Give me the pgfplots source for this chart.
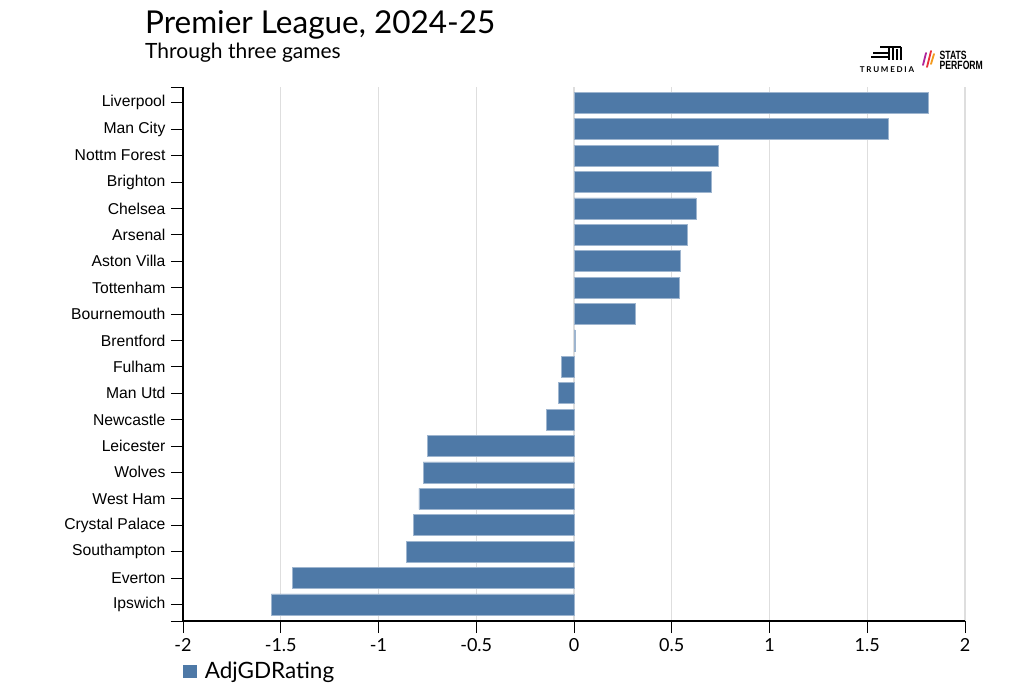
\documentclass[border=0pt]{standalone}
\usepackage{fontspec}
\setmainfont{Liberation Sans}
\newfontfamily\lato{Lato}
\newfontfamily\condsans[FakeStretch=0.72]{Liberation Sans}
\usepackage{pgfplots}
\pgfplotsset{compat=1.18}
\definecolor{barblue}{HTML}{4E79A7}
\definecolor{gridgray}{HTML}{DEDEDE}
\definecolor{spred}{HTML}{E8313A}
\definecolor{sporange}{HTML}{F39A1E}
\definecolor{sppurple}{HTML}{B0249A}

\begin{document}
\begin{tikzpicture}[x=1pt,y=1pt]
\path (0,0) rectangle (1024,682);

% titles
\node[anchor=base west, inner sep=0pt, font=\lato\fontsize{31.5}{36}\selectfont]
  at (145,648.7) {Premier League, 2024-25};
\node[anchor=base west, inner sep=0pt, font=\lato\fontsize{21}{24}\selectfont]
  at (145,623.7) {Through three games};

% logos (rough)
\node[anchor=base, inner sep=0pt, font=\lato\bfseries\fontsize{8}{9}\selectfont\addfontfeature{LetterSpace=22}]
  at (887,609.7) {TRUMEDIA};
\begin{scope}[line width=1.6pt, line cap=butt]
  \draw (880,635) -- (901,635);
  \draw (873,629) -- (888,629);
  \draw (871,625) -- (888,625);
  \draw (889,635) -- (889,622);
  \draw (893,635) -- (893,622);
  \draw (897,633) -- (897,622);
  \draw (901,635) -- (901,622);
\end{scope}
\begin{scope}[line width=1.8pt, line cap=round]
  \draw[sppurple] (923,617) -- (926,629);
  \draw[spred] (927,615) -- (931,631);
  \draw[sporange] (931,618) -- (934,628);
\end{scope}
\node[anchor=base west, inner sep=0pt, font=\condsans\bfseries\fontsize{12}{12}\selectfont]
  at (939.5,622) {STATS};
\node[anchor=base west, inner sep=0pt, font=\condsans\bfseries\fontsize{12}{12}\selectfont]
  at (939.5,612) {PERFORM};

\begin{axis}[
  at={(183pt,61pt)}, anchor=south west,
  scale only axis, width=782pt, height=534pt,
  xbar, bar width=21pt,
  xmin=-2, xmax=2, xtick distance=0.5,
  ymin=-0.63, ymax=19.6,
  ytick={0,...,19},
  yticklabels={Ipswich,Everton,Southampton,Crystal Palace,West Ham,Wolves,Leicester,Newcastle,Man Utd,Fulham,Brentford,Bournemouth,Tottenham,Aston Villa,Arsenal,Chelsea,Brighton,Nottm Forest,Man City,Liverpool},
  extra y ticks={-0.63,19.6}, extra y tick labels={},
  axis x line*=bottom, axis y line*=left,
  axis line style={line width=1.1pt, -},
  tick align=outside, major tick length=12pt,
  tick style={black, line width=0.9pt},
  xmajorgrids, grid style={gridgray, line width=1.3pt},
  /pgf/number format/assume math mode=true,
  xticklabel style={font=\lato\fontsize{18}{20}\selectfont, yshift=-2pt},
  yticklabel style={font=\fontsize{15.7}{18}\selectfont, xshift=-2pt},
  legend style={at={(0,0)}, anchor=north west, yshift=-39pt, xshift=0pt,
    draw=none, fill=none, inner sep=0pt,
    font=\lato\fontsize{22.5}{26}\selectfont,
    /tikz/every odd column/.style={column sep=6pt}},
  legend cell align=left,
  legend image code/.code={\fill[barblue] (0pt,-6pt) rectangle (13pt,6pt);},
]
\addplot[fill=barblue, draw=barblue!55!white, line width=0.6pt] coordinates {
  (-1.548,0) (-1.441,1) (-0.856,2) (-0.823,3) (-0.793,4) (-0.772,5)
  (-0.748,6) (-0.141,7) (-0.078,8) (-0.066,9) (0.006,10) (0.311,11)
  (0.541,12) (0.544,13) (0.582,14) (0.624,15) (0.703,16) (0.737,17)
  (1.610,18) (1.813,19)
};
\legend{AdjGDRating}
\end{axis}
\end{tikzpicture}
\end{document}
